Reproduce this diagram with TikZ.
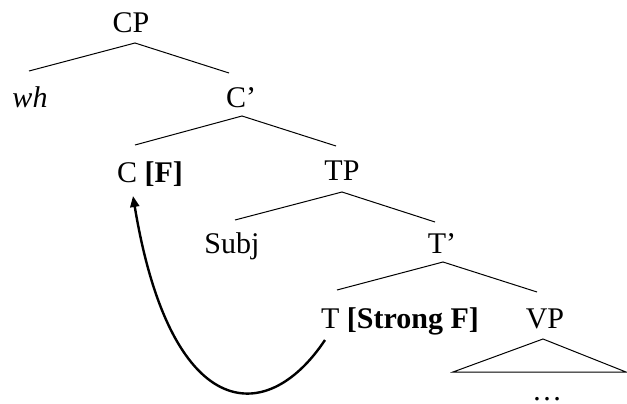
\documentclass[tikz,border=0pt]{standalone}
\usepackage{fontspec}
\setmainfont{Liberation Serif}
\usetikzlibrary{arrows.meta}
\begin{document}
\begin{tikzpicture}[x=1pt,y=-1pt,
  lbl/.style={anchor=base,inner sep=0pt,font=\fontsize{30}{35}\selectfont},
  branch/.style={line width=1pt},
  movearrow/.style={line width=2.4pt,-{Triangle[length=11pt,width=9pt]}}]
\useasboundingbox (0,0) rectangle (627,404);
% labels
\node[lbl] (cp) at (131,33) {CP};
\node[lbl] (wh) at (30,107) {\itshape wh};
\node[lbl] (cbar) at (241,107) {C’};
\node[lbl] (c) at (150,182) {C \textbf{[F]}};
\node[lbl] (tp) at (342,180) {TP};
\node[lbl] (subj) at (232,253) {Subj};
\node[lbl] (tbar) at (442,253) {T’};
\node[lbl] (t) at (400,328) {T \textbf{[Strong F]}};
\node[lbl] (vp) at (545,328) {VP};
\node[lbl] (dots) at (547,400) {…};
% branch points
\coordinate (cpA) at (135,43);  \coordinate (whE) at (29,71);  \coordinate (cbarE) at (229,73);
\coordinate (cbarA) at (242,116); \coordinate (cE) at (135,145); \coordinate (tpE) at (336,146);
\coordinate (tpA) at (342,192); \coordinate (subjE) at (235,220); \coordinate (tbarE) at (435,222);
\coordinate (tbarA) at (443,262); \coordinate (tE) at (337,290); \coordinate (vpE) at (537,292);
\coordinate (vpA) at (543,339); \coordinate (triL) at (453,372); \coordinate (triR) at (626,372);
\coordinate (arrS) at (325,340); \coordinate (arrT) at (133,196);
% branches
\draw[branch] (whE) -- (cpA) -- (cbarE);
\draw[branch] (cE) -- (cbarA) -- (tpE);
\draw[branch] (subjE) -- (tpA) -- (tbarE);
\draw[branch] (tE) -- (tbarA) -- (vpE);
\draw[branch] (triL) -- (vpA) -- (triR) -- cycle;
% movement arrow
\draw[movearrow] (arrS) .. controls (265,430) and (170,420) .. (arrT);
\end{tikzpicture}
\end{document}
